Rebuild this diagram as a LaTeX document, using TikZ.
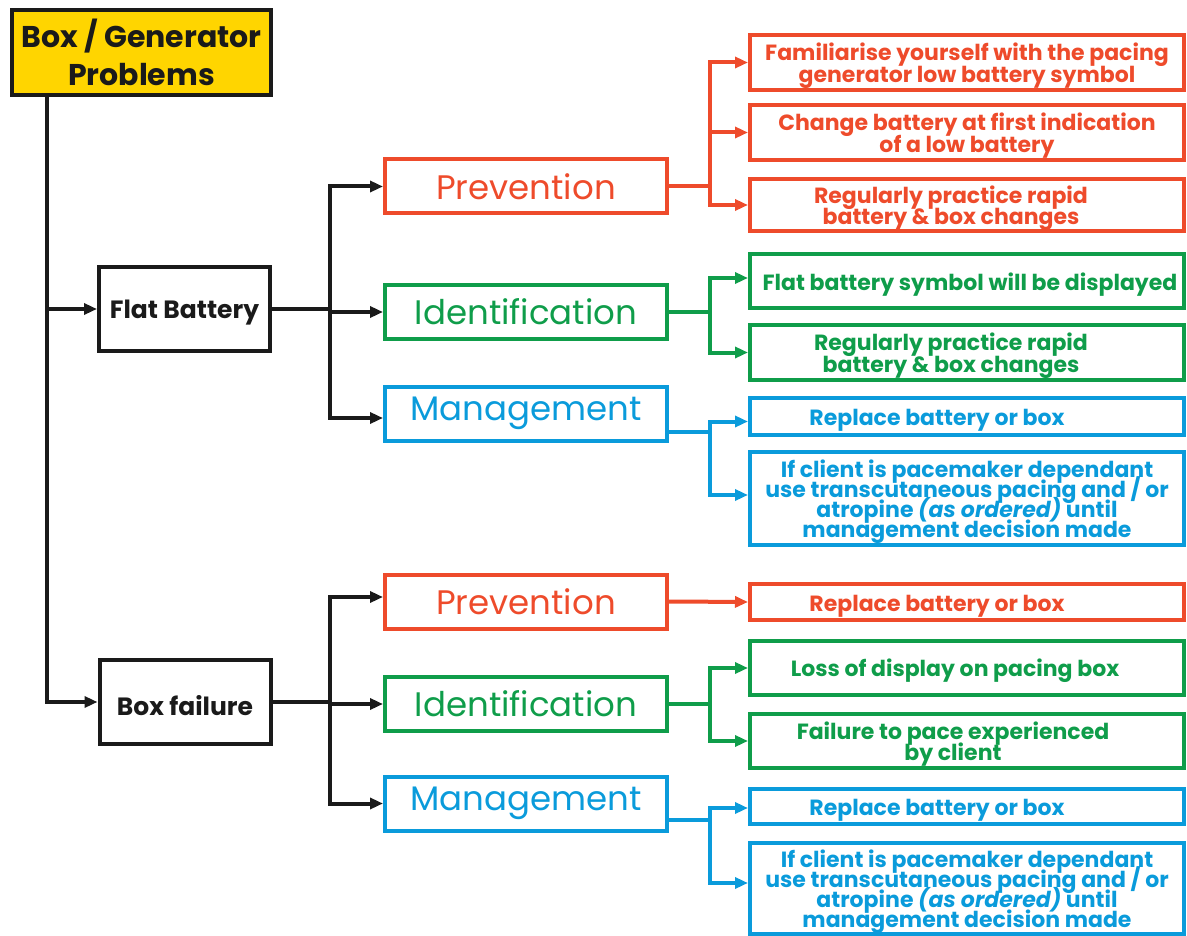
\documentclass[tikz,border=0pt]{standalone}
\usepackage{fontspec}
\setmainfont{Poppins}
\usetikzlibrary{arrows.meta}
\definecolor{cred}{HTML}{EE4B2B}
\definecolor{cgreen}{HTML}{0F9D4A}
\definecolor{cblue}{HTML}{0A9BDB}
\definecolor{cyellow}{HTML}{FFD500}
\definecolor{cblack}{HTML}{1A1A1A}
\newcommand{\shiftl}[1]{\hspace*{#1pt}}
\newcommand{\packedlines}{\lineskiplimit=-100pt\lineskip=0pt}
% taller first line, which lowers the text block a little inside its box
\newcommand{\dropline}{\rule{0pt}{24pt}}
\begin{document}
\begin{tikzpicture}[x=1pt,y=-1pt,
  box/.style={draw, rectangle, line width=4pt, inner sep=0pt, align=center},
  tbox/.style={box, fill=cyellow, draw=cblack, line width=4.5pt, text=cblack,
    minimum width=259, minimum height=85, font=\bfseries\fontsize{30}{38}\selectfont\packedlines},
  kbox/.style={box, draw=cblack, text=cblack, minimum width=171, minimum height=84,
    font=\bfseries\fontsize{25}{28}\selectfont, execute at begin node={\rule{0pt}{26.5pt}}},
  mbox/.style={box, minimum width=282, minimum height=54, font=\fontsize{34}{34}\selectfont},
  rbox/.style={box, minimum width=434, font=\bfseries\fontsize{22}{21.5}\selectfont\packedlines},
  tight/.style={font=\bfseries\fontsize{22}{20}\selectfont\packedlines},
  redc/.style={draw=cred, text=cred},
  greenc/.style={draw=cgreen, text=cgreen},
  bluec/.style={draw=cblue, text=cblue},
  conn/.style={line width=4pt, -{Triangle[length=13pt,width=11pt]}},
  kconn/.style={conn, cblack},
  rconn/.style={conn, cred},
  gconn/.style={conn, cgreen},
  bconn/.style={conn, cblue}
]
\useasboundingbox (0,0) rectangle (1187,936);

% root and the two problem types
\node[tbox] (title) at (141.5,52.5) {Box / Generator\\Problems};
\node[kbox] (fb) at (184.5,309) {Flat Battery};
\node[kbox] (bf) at (185,702) {Box failure};

% second level
\node[mbox, redc]   (p1) at (526,186.5) {Prevention};
\node[mbox, greenc] (i1) at (526,312) {Identification};
\node[mbox, bluec]  (m1) at (526,413.5) {Management};
\node[mbox, redc]   (p2) at (526,601.5) {Prevention};
\node[mbox, greenc] (i2) at (526,704) {Identification};
\node[mbox, bluec]  (m2) at (526,803.5) {Management};

% actions, flat battery
\node[rbox, redc, minimum height=55] (r1) at (967,62.5) {\dropline Familiarise yourself with the pacing\\generator low battery symbol};
\node[rbox, redc, minimum height=55] (r2) at (967,132.5) {\dropline Change battery at first indication\\of a low battery};
\node[rbox, redc, minimum height=52] (r3) at (967,205) {\dropline Regularly practice rapid\shiftl{32}\\battery \& box changes\shiftl{32}};
\node[rbox, greenc, minimum height=54] (g1) at (967,281) {\dropline\shiftl{6}Flat battery symbol will be displayed};
\node[rbox, greenc, minimum height=55] (g2) at (967,352.5) {\dropline Regularly practice rapid\shiftl{32}\\battery \& box changes\shiftl{32}};
\node[rbox, bluec, minimum height=37] (b1) at (967,416.5) {\dropline Replace battery or box\shiftl{60}};
\node[rbox, bluec, tight, minimum height=93] (b2) at (967,498.5) {\dropline If client is pacemaker dependant\\use transcutaneous pacing and / or\\atropine \textit{(as ordered)} until\\management decision made};

% actions, box failure
\node[rbox, redc, minimum height=36] (r4) at (967,602) {\dropline Replace battery or box\shiftl{60}};
\node[rbox, greenc, minimum height=54] (g3) at (967,668) {\dropline Loss of display on pacing box\shiftl{24}};
\node[rbox, greenc, minimum height=54] (g4) at (967,741) {\dropline Failure to pace experienced\shiftl{28}\\by client\shiftl{28}};
\node[rbox, bluec, minimum height=35] (b3) at (967,806.5) {\dropline Replace battery or box\shiftl{60}};
\node[rbox, bluec, tight, minimum height=90] (b4) at (967,888.5) {\dropline If client is pacemaker dependant\\use transcutaneous pacing and / or\\atropine \textit{(as ordered)} until\\management decision made};

% trunk from the root
\draw[kconn] ([xshift=37pt]title.south west) |- (fb.west);
\draw[kconn] ([xshift=37pt]title.south west) |- (bf.west);

% flat battery branches
\draw[kconn] (fb.east) -- ++(58,0) |- (p1.west);
\draw[kconn] (fb.east) -- ++(58,0) |- (i1.west);
\draw[kconn] (fb.east) -- ++(58,0) |- ([yshift=-4.5pt]m1.west);

% box failure branches
\draw[kconn] (bf.east) -- ++(57,0) |- ([yshift=4.5pt]p2.west);
\draw[kconn] (bf.east) -- ++(57,0) |- (i2.west);
\draw[kconn] (bf.east) -- ++(57,0) |- (m2.west);

% actions for flat battery
\draw[rconn] (p1.east) -- ++(41,0) |- (r1.west);
\draw[rconn] (p1.east) -- ++(41,0) |- (r2.west);
\draw[rconn] (p1.east) -- ++(41,0) |- (r3.west);
\draw[gconn] (i1.east) -- ++(41,0) |- ([yshift=3pt]g1.west);
\draw[gconn] (i1.east) -- ++(41,0) |- (g2.west);
\draw[bconn] ([yshift=-18pt]m1.east) -- ++(41,0) |- ([yshift=-5pt]b1.west);
\draw[bconn] ([yshift=-18pt]m1.east) -- ++(41,0) |- ([yshift=3.5pt]b2.west);

% actions for box failure
\draw[rconn] (p2.east) -- (r4.west);
\draw[gconn] (i2.east) -- ++(41,0) |- (g3.west);
\draw[gconn] (i2.east) -- ++(41,0) |- (g4.west);
\draw[bconn] ([yshift=-16pt]m2.east) -- ++(41,0) |- ([yshift=-1.5pt]b3.west);
\draw[bconn] ([yshift=-16pt]m2.east) -- ++(41,0) |- ([yshift=5.5pt]b4.west);
\end{tikzpicture}
\end{document}
